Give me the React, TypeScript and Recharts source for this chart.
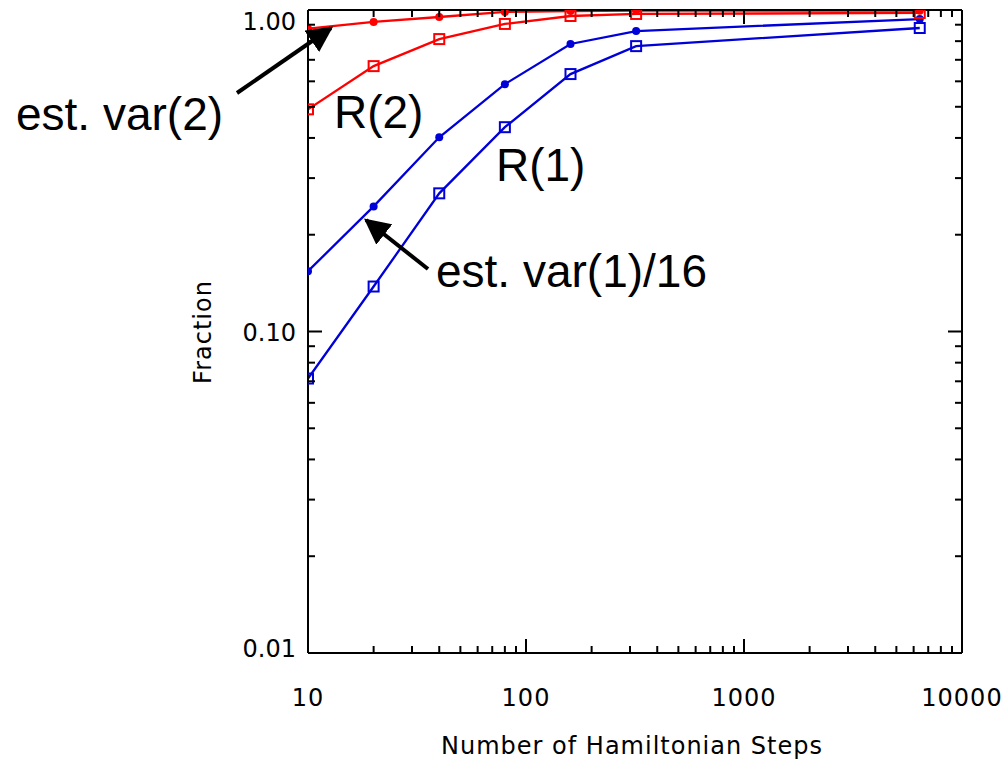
import { LineChart, Line, XAxis, YAxis } from 'recharts';

const steps = [10, 20, 40, 80, 160, 320, 6400];
const estVar2 = [0.875, 0.918, 0.951, 0.986, 0.993, 0.995, 0.995];
const r2 = [0.491, 0.669, 0.812, 0.905, 0.958, 0.972, 0.979];
const estVar1 = [0.154, 0.245, 0.402, 0.588, 0.784, 0.86, 0.937];
const r1 = [0.0714, 0.138, 0.269, 0.432, 0.632, 0.772, 0.879];

const xTicks = [10, 20, 30, 40, 50, 60, 70, 80, 90, 100, 200, 300, 400, 500, 600, 700, 800, 900, 1000, 2000, 3000, 4000, 5000, 6000, 7000, 8000, 9000, 10000];
const xMajor = [10, 100, 1000, 10000];
const yTicks = [0.01, 0.02, 0.03, 0.04, 0.05, 0.06, 0.07, 0.08, 0.09, 0.1, 0.2, 0.3, 0.4, 0.5, 0.6, 0.7, 0.8, 0.9, 1];
const yMajor = [0.01, 0.1, 1];
const yLabels: Record<string, string> = { '0.01': '0.01', '0.1': '0.10', '1': '1.00' };

const data = steps.map((s, i) => ({ s, ev2: estVar2[i], r2: r2[i], ev1: estVar1[i], r1: r1[i] }));

const RED = '#ff0000';
const BLUE = '#0000d8';
const labelFont = { fontFamily: 'DejaVu Sans', fontSize: 24, letterSpacing: 1, fill: '#000' };

const isMajor = (list: number[], v: number) => list.some((m) => Math.abs(m - v) < 1e-9);

function BottomTick(props: any) {
  const { x, y, payload } = props;
  const major = isMajor(xMajor, payload.value);
  return (
    <g>
      <line x1={x} y1={y} x2={x} y2={y - (major ? 14 : 7)} stroke="#000" strokeWidth={2} />
      {major && (
        <text x={x} y={y + 53} textAnchor="middle" {...labelFont}>
          {payload.value}
        </text>
      )}
    </g>
  );
}

function TopTick(props: any) {
  const { x, y, payload } = props;
  const major = isMajor(xMajor, payload.value);
  return <line x1={x} y1={y} x2={x} y2={y + (major ? 14 : 7)} stroke="#000" strokeWidth={2} />;
}

function LeftTick(props: any) {
  const { x, y, payload } = props;
  const major = isMajor(yMajor, payload.value);
  const shift = payload.value === 1 ? 11 : payload.value === 0.01 ? -5 : 0;
  return (
    <g>
      <line x1={x} y1={y} x2={x + (major ? 14 : 7)} y2={y} stroke="#000" strokeWidth={2} />
      {major && (
        <text x={x - 12} y={y + 9 + shift} textAnchor="end" {...labelFont} letterSpacing={0}>
          {yLabels[String(payload.value)]}
        </text>
      )}
    </g>
  );
}

function RightTick(props: any) {
  const { x, y, payload } = props;
  const major = isMajor(yMajor, payload.value);
  return <line x1={x} y1={y} x2={x - (major ? 14 : 7)} y2={y} stroke="#000" strokeWidth={2} />;
}

function Square(props: any) {
  const { cx, cy, stroke, index } = props;
  if (cx == null || cy == null) return null;
  return <rect key={index} x={cx - 5} y={cy - 5} width={10} height={10} fill="none" stroke={stroke} strokeWidth={2} />;
}

function Disc(props: any) {
  const { cx, cy, stroke, index } = props;
  if (cx == null || cy == null) return null;
  return <circle key={index} cx={cx} cy={cy} r={4} fill={stroke} stroke="none" />;
}

const annFont = { fontFamily: 'Liberation Sans, Arial, sans-serif', fontSize: 46, fill: '#000' };

const axisCommon = {
  type: 'number' as const,
  scale: 'log' as const,
  allowDataOverflow: true,
  interval: 0 as const,
  tickSize: 0,
  tickMargin: 0,
  tickLine: false,
  axisLine: { stroke: '#000', strokeWidth: 2 },
};

export default function App() {
  return (
    <div style={{ position: 'fixed', left: 0, top: 0, width: 1003, height: 759, background: '#fff' }}>
      <LineChart width={1003} height={759} data={data} margin={{ top: 9, right: 40, bottom: 105, left: 307 }}>
        <XAxis xAxisId="b" dataKey="s" domain={[10, 10000]} ticks={xTicks} height={1} tick={<BottomTick />} {...axisCommon} />
        <XAxis xAxisId="t" orientation="top" dataKey="s" domain={[10, 10000]} ticks={xTicks} height={1} tick={<TopTick />} {...axisCommon} />
        <YAxis yAxisId="l" domain={[0.01, 1]} ticks={yTicks} width={1} tick={<LeftTick />} {...axisCommon} />
        <YAxis yAxisId="r" orientation="right" domain={[0.01, 1]} ticks={yTicks} width={1} tick={<RightTick />} {...axisCommon} />
        <Line xAxisId="b" yAxisId="l" dataKey="r1" type="linear" stroke={BLUE} strokeWidth={2.3} dot={<Square />} isAnimationActive={false} />
        <Line xAxisId="b" yAxisId="l" dataKey="ev1" type="linear" stroke={BLUE} strokeWidth={2.3} dot={<Disc />} isAnimationActive={false} />
        <Line xAxisId="b" yAxisId="l" dataKey="r2" type="linear" stroke={RED} strokeWidth={2.3} dot={<Square />} isAnimationActive={false} />
        <Line xAxisId="b" yAxisId="l" dataKey="ev2" type="linear" stroke={RED} strokeWidth={2.3} dot={<Disc />} isAnimationActive={false} />
      </LineChart>
      <svg width={1003} height={759} style={{ position: 'absolute', left: 0, top: 0, pointerEvents: 'none' }}>
        <defs>
          <marker id="arrowHead" viewBox="0 0 10 10" refX="9" refY="5" markerWidth="6.5" markerHeight="6.5" markerUnits="strokeWidth" orient="auto">
            <path d="M0,0 L10,5 L0,10 z" fill="#000" />
          </marker>
        </defs>
        <text x={211} y={332} textAnchor="middle" transform="rotate(-90 211 332)" {...labelFont}>
          Fraction
        </text>
        <text x={632} y={754} textAnchor="middle" {...labelFont}>
          Number of Hamiltonian Steps
        </text>
        <text x={16} y={130} {...annFont}>est. var(2)</text>
        <text x={334} y={128} {...annFont}>R(2)</text>
        <text x={496} y={181} {...annFont}>R(1)</text>
        <text x={436} y={287} {...annFont}>est. var(1)/16</text>
        <line x1={237} y1={93} x2={331} y2={28} stroke="#000" strokeWidth={4} markerEnd="url(#arrowHead)" />
        <line x1={428} y1={269} x2={366} y2={220} stroke="#000" strokeWidth={4} markerEnd="url(#arrowHead)" />
      </svg>
    </div>
  );
}
